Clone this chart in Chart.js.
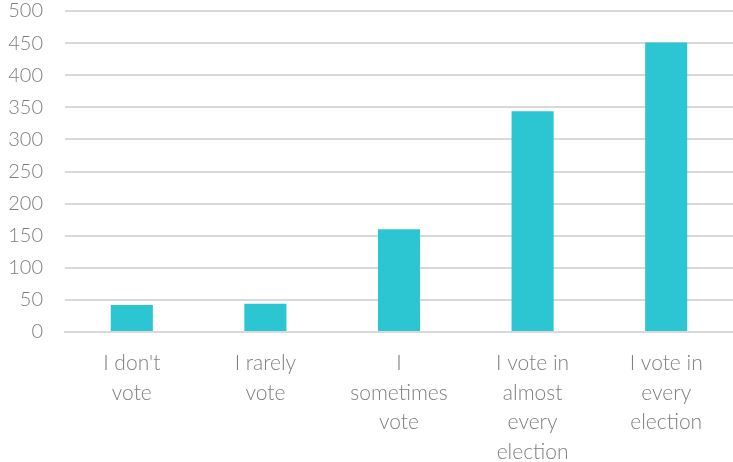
<!DOCTYPE html>
<html>
<head>
  <meta charset="UTF-8">
  <script src="https://cdn.jsdelivr.net/npm/chart.js"></script>
  <title>Voting frequency</title>
  <style>
    html, body { margin: 0; padding: 0; background: #fff; }
    .grafic_cont { width: 733px; height: 462px; }
  </style>
</head>
<body>
  <div class="grafic_cont">
    <canvas id="myChart"></canvas>
  </div>
  <script>
    const categories = [
      ["I don't", "vote"],
      ["I rarely", "vote"],
      ["I", "sometimes", "vote"],
      ["I vote in", "almost", "every", "election"],
      ["I vote in", "every", "election"]
    ];
    const counts = [42, 44, 160, 344, 451];
    const yTicks = [0, 50, 100, 150, 200, 250, 300, 350, 400, 450, 500];

    var ctx = document.getElementById('myChart').getContext('2d');
    var chart = new Chart(ctx, {
      type: 'bar',
      data: {
        labels: categories,
        datasets: [{
          data: counts,
          backgroundColor: '#2cc6d3',
          barPercentage: 0.63,
          categoryPercentage: 0.5
        }]
      },
      options: {
        responsive: true,
        maintainAspectRatio: false,
        animation: false,
        layout: { padding: 0 },
        plugins: {
          legend: { display: false },
          tooltip: { enabled: false }
        },
        scales: {
          x: {
            grid: { display: false },
            border: { display: true, color: '#d9d9d9', width: 2 },
            ticks: {
              color: '#7f7f7f',
              font: { family: 'Lato', size: 21, weight: 300, lineHeight: 1.4 },
              maxRotation: 0,
              autoSkip: false,
              padding: 9
            },
            afterFit: function (axis) { axis.height = 130; }
          },
          y: {
            min: 0,
            max: 500,
            afterBuildTicks: function (axis) {
              axis.ticks = yTicks.map(v => ({ value: v }));
            },
            grid: { color: '#d9d9d9', lineWidth: 2, drawTicks: false },
            border: { display: false },
            ticks: {
              color: '#7f7f7f',
              font: { family: 'Lato', size: 20, weight: 300 },
              padding: 22
            },
            afterFit: function (axis) {
              axis.width = 65;
              axis.paddingTop = 11;
              axis.paddingBottom = 0;
            }
          }
        }
      }
    });
  </script>
</body>
</html>
